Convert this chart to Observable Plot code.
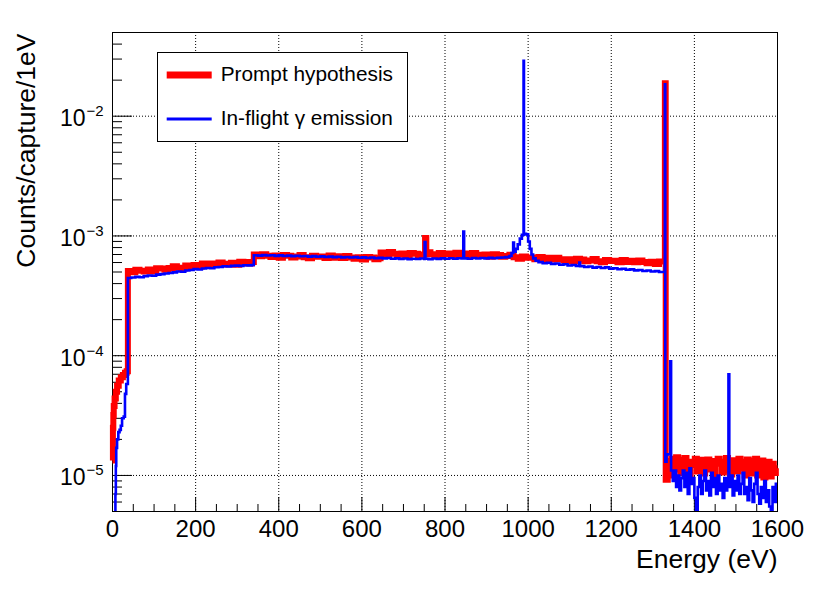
<!DOCTYPE html>
<html><head><meta charset="utf-8">
<script src="https://cdn.jsdelivr.net/npm/d3@7"></script>
<script src="https://cdn.jsdelivr.net/npm/@observablehq/plot@0.6"></script>
<style>
html,body{margin:0;padding:0;background:#fff;overflow:hidden}
#wrap{position:relative;width:830px;height:599px}
#legend{position:absolute;left:0;top:0;pointer-events:none}
</style></head>
<body><div id="wrap"></div>
<script>
// ---- data: [energy bin start (eV), counts/capture/1eV] ----
const redRise = [[0,1.33e-5],[1,2.5e-5],[2,3.2e-5],[3,3.8e-5],[5,4.4e-5],[8,5.0e-5],[11,5.6e-5],[15,6.2e-5],[20,6.6e-5],[25,6.9e-5],[30,7.2e-5],[34,7.4e-5]];
const redMain = [[37,5.10e-4],[45,4.98e-4],[55,5.22e-4],[65,5.11e-4],[75,5.05e-4],[85,5.24e-4],[95,5.06e-4],[105,5.37e-4],[115,5.35e-4],[125,5.23e-4],[135,5.39e-4],[145,5.59e-4],[155,5.42e-4],[165,5.35e-4],[175,5.67e-4],[185,5.60e-4],[195,5.71e-4],[205,5.57e-4],[215,5.88e-4],[225,5.68e-4],[235,5.89e-4],[245,5.74e-4],[255,6.00e-4],[265,5.86e-4],[275,5.77e-4],[285,5.98e-4],[295,5.76e-4],[305,6.09e-4],[315,6.06e-4],[325,5.90e-4],[335,6.05e-4],
[340,6.99e-4],[350,6.77e-4],[360,7.03e-4],[370,6.82e-4],[380,6.67e-4],[390,6.87e-4],[400,6.59e-4],[410,6.92e-4],[420,6.84e-4],[430,6.62e-4],[440,6.75e-4],[450,6.94e-4],[460,6.65e-4],[470,6.51e-4],[480,6.83e-4],[490,6.69e-4],[500,6.75e-4],[510,6.54e-4],[520,6.86e-4],[530,6.57e-4],[540,6.76e-4],[550,6.55e-4],[560,6.81e-4],[570,6.60e-4],[580,6.45e-4],[590,6.64e-4],[600,6.36e-4],[610,6.68e-4],[620,6.60e-4],[630,6.39e-4],[640,6.51e-4],
[645,7.29e-4],[655,7.07e-4],[665,7.33e-4],[675,7.11e-4],[685,6.95e-4],[695,7.15e-4],[705,6.85e-4],[715,7.19e-4],[725,7.10e-4],[735,6.88e-4],[745,7.00e-4],[752,9.6e-4],[755,7.31e-4],[765,7.02e-4],[775,6.87e-4],[785,7.21e-4],[795,7.06e-4],[805,7.12e-4],[815,6.90e-4],[825,7.24e-4],[835,6.95e-4],[845,7.15e-4],[855,6.93e-4],[865,7.19e-4],[875,6.96e-4],[885,6.80e-4],[895,6.99e-4],[905,6.69e-4],[915,7.02e-4],[925,6.93e-4],[935,6.69e-4],[945,6.79e-4],[955,6.95e-4],[965,6.63e-4],[975,6.45e-4],[985,6.74e-4],[995,6.58e-4],
[1005,6.62e-4],[1015,6.39e-4],[1025,6.68e-4],[1035,6.40e-4],[1045,6.57e-4],[1055,6.36e-4],[1065,6.59e-4],[1075,6.38e-4],[1085,6.23e-4],[1095,6.40e-4],[1105,6.14e-4],[1115,6.44e-4],[1125,6.35e-4],[1135,6.14e-4],[1145,6.25e-4],[1155,6.43e-4],[1165,6.16e-4],[1175,6.02e-4],[1185,6.31e-4],[1195,6.18e-4],[1205,6.22e-4],[1215,6.03e-4],[1225,6.31e-4],[1235,6.06e-4],[1245,6.22e-4],[1255,6.03e-4],[1265,6.25e-4],[1275,6.06e-4],[1285,5.92e-4],[1295,6.09e-4],[1305,5.84e-4],[1315,6.13e-4]];
const redPeak = [[1329,1.88e-2]];
const redTail = [[1331,9.2e-6],[1336,1.0e-5],[1341,1.32e-5],[1346,1.38e-5],[1351,1.12e-5],[1356,1.42e-5],[1361,1.25e-5],[1366,1.05e-5],[1371,1.35e-5],[1376,1.4e-5],[1381,1.15e-5],[1386,1.02e-5],[1391,1.3e-5],[1396,1.22e-5],[1401,1.38e-5],[1406,1.08e-5],[1411,1.18e-5],[1416,1.35e-5],[1421,1.04e-5],[1426,1.28e-5],[1431,1.36e-5],[1436,1.12e-5],[1441,1.32e-5],[1446,1.0e-5],[1451,1.25e-5],[1456,1.38e-5],[1461,1.3e-5],[1466,1.06e-5],[1471,1.2e-5],[1476,1.4e-5],[1481,1.1e-5],[1486,1.02e-5],[1491,1.34e-5],[1496,1.26e-5],[1501,1.08e-5],[1506,1.38e-5],[1511,1.15e-5],[1516,1.3e-5],[1521,1.0e-5],[1526,1.36e-5],[1531,1.24e-5],[1536,1.04e-5],[1541,1.32e-5],[1546,1.38e-5],[1551,1.0e-5],[1556,1.2e-5],[1561,1.33e-5],[1566,9.6e-6],[1571,1.1e-5],[1576,1.3e-5],[1581,9.8e-6],[1586,1.25e-5],[1591,1.05e-5],[1596,1.15e-5],[1600,1.15e-5]];

const blueRise = [[0,1e-6],[7,7e-6],[8,1.2e-5],[9,1.7e-5],[11,2.0e-5],[14,2.3e-5],[17,2.4e-5],[20,2.6e-5],[23,3.0e-5],[27,3.1e-5],[30,4.8e-5],[33,5.8e-5]];
const blueMain = [[37,4.45e-4],[45,4.50e-4],[55,4.55e-4],[65,4.52e-4],[75,4.62e-4],[85,4.68e-4],[95,4.65e-4],[105,4.75e-4],[115,4.80e-4],[125,4.86e-4],[135,4.90e-4],[145,4.96e-4],[155,5.05e-4],[165,5.02e-4],[175,5.15e-4],[185,5.20e-4],[195,5.28e-4],[205,5.25e-4],[215,5.35e-4],[225,5.40e-4],[235,5.38e-4],[245,5.48e-4],[255,5.50e-4],[265,5.58e-4],[275,5.55e-4],[285,5.62e-4],[295,5.65e-4],[305,5.62e-4],[315,5.70e-4],[325,5.68e-4],[335,5.72e-4],
[340,6.90e-4],[350,6.85e-4],[360,6.92e-4],[370,6.86e-4],[380,6.90e-4],[390,6.82e-4],[400,6.88e-4],[410,6.80e-4],[420,6.85e-4],[430,6.78e-4],[440,6.84e-4],[450,6.76e-4],[460,6.80e-4],[470,6.72e-4],[480,6.78e-4],[490,6.70e-4],[500,6.75e-4],[510,6.68e-4],[520,6.72e-4],[530,6.65e-4],[540,6.70e-4],[550,6.62e-4],[560,6.68e-4],[570,6.60e-4],[580,6.65e-4],[590,6.58e-4],[600,6.62e-4],[610,6.55e-4],[620,6.60e-4],[630,6.52e-4],[640,6.56e-4],[650,6.50e-4],[660,6.54e-4],[670,6.46e-4],[680,6.50e-4],[690,6.44e-4],[700,6.48e-4],[710,6.40e-4],[720,6.46e-4],[730,6.42e-4],[740,6.48e-4],[750,6.42e-4],[751,8.9e-4],[753,6.45e-4],[760,6.40e-4],[770,6.48e-4],[780,6.44e-4],[790,6.50e-4],[800,6.45e-4],[810,6.52e-4],[820,6.46e-4],[830,6.52e-4],[840,6.48e-4],[844,1.09e-3],[846,6.50e-4],[855,6.46e-4],[865,6.54e-4],[875,6.48e-4],[885,6.55e-4],[895,6.50e-4],[905,6.56e-4],[915,6.52e-4],[925,6.58e-4],[935,6.60e-4],[945,6.65e-4],[955,6.80e-4],[960,7.20e-4],[964,8.8e-4],[966,7.40e-4],[970,7.80e-4],[975,8.50e-4],[980,9.50e-4],[985,1.02e-3],[989,2.90e-2],[990,1.04e-3],[995,1.03e-3],[1000,9.0e-4],[1004,7.8e-4],[1008,7.0e-4],[1012,6.5e-4],[1018,6.2e-4],
[1025,6.05e-4],[1035,5.92e-4],[1045,5.98e-4],[1055,5.84e-4],[1065,5.88e-4],[1075,5.74e-4],[1085,5.80e-4],[1095,5.66e-4],[1105,5.72e-4],[1115,5.62e-4],[1123,6.0e-4],[1125,5.60e-4],[1135,5.50e-4],[1145,5.56e-4],[1155,5.44e-4],[1165,5.50e-4],[1175,5.40e-4],[1185,5.46e-4],[1195,5.34e-4],[1205,5.38e-4],[1215,5.27e-4],[1225,5.32e-4],[1235,5.22e-4],[1245,5.26e-4],[1255,5.16e-4],[1265,5.20e-4],[1275,5.10e-4],[1285,5.14e-4],[1295,5.05e-4],[1305,5.08e-4],[1315,5.00e-4]];
const bluePeak = [[1329,1.85e-2]];
const blueTail = [[1330,1.3e-5],[1333,1.5e-5],[1342,9.0e-5],[1344,1.1e-5],[1348,9.0e-6],[1352,1.1e-5],[1356,8.0e-6],[1360,1.0e-5],[1364,7.5e-6],[1368,9.5e-6],[1372,1.1e-5],[1376,8.0e-6],[1380,1.05e-5],[1384,7.0e-6],[1388,1.15e-5],[1392,8.5e-6],[1396,9.5e-6],[1400,6.5e-6],[1404,5.0e-6],[1408,8.0e-6],[1412,1.0e-5],[1416,7.0e-6],[1420,9.0e-6],[1424,1.1e-5],[1428,7.5e-6],[1432,9.0e-6],[1436,6.8e-6],[1440,1.05e-5],[1444,8.0e-6],[1448,9.5e-6],[1452,7.0e-6],[1456,1.0e-5],[1460,7.5e-6],[1464,8.5e-6],[1468,6.5e-6],[1472,9.5e-6],[1476,7.5e-6],[1479,9.0e-6],[1482,7.0e-5],[1484,8.0e-6],[1488,1.0e-5],[1492,6.8e-6],[1496,9.0e-6],[1500,7.5e-6],[1504,1.0e-5],[1508,7.0e-6],[1512,8.5e-6],[1516,1.05e-5],[1520,7.0e-6],[1524,8.0e-6],[1528,6.2e-6],[1532,9.5e-6],[1536,7.5e-6],[1540,6.0e-6],[1544,8.5e-6],[1548,1.05e-5],[1552,7.0e-6],[1556,5.8e-6],[1560,8.0e-6],[1564,6.5e-6],[1568,9.0e-6],[1572,6.0e-6],[1576,7.5e-6],[1580,5.5e-6],[1584,3.0e-6],[1588,8.0e-6],[1592,6.0e-6],[1596,8.5e-6],[1600,8.5e-6]];

// ---- ticks & labels ----
const xMajor = [0,200,400,600,800,1000,1200,1400,1600];
const xGrid = [200,400,600,800,1000,1200,1400];
const xMinor = [50,100,150,250,300,350,450,500,550,650,700,750,850,900,950,1050,1100,1150,1250,1300,1350,1450,1500,1550];
const yDecades = [1e-5,1e-4,1e-3,1e-2];
const yExp = ["\u22125","\u22124","\u22123","\u22122"];
const yMinor = [6e-6,7e-6,8e-6,9e-6,2e-5,3e-5,4e-5,5e-5,6e-5,7e-5,8e-5,9e-5,2e-4,3e-4,4e-4,5e-4,6e-4,7e-4,8e-4,9e-4,2e-3,3e-3,4e-3,5e-3,6e-3,7e-3,8e-3,9e-3,2e-2,3e-2,4e-2];
const seriesNames = ["Prompt hypothesis","In-flight \u03b3 emission"];
const seriesColors = ["#ff0000","#0000ff"];
const xTitle = "Energy (eV)";
const yTitle = "Counts/capture/1eV";

const toRows = a => a.map(([e, v]) => ({e, v}));
const red = toRows([...redRise, ...redMain, ...redPeak, ...redTail]);
const blue = toRows([...blueRise, ...blueMain, ...bluePeak, ...blueTail]);

const FONT = "Liberation Sans, Arial, Helvetica, sans-serif";
const W = 830, H = 599, ML = 112, MR = 53, MT = 32, MB = 88;
const FW = W - ML - MR, FH = H - MT - MB;

const chart = Plot.plot({
  width: W, height: H,
  marginLeft: ML, marginRight: MR, marginTop: MT, marginBottom: MB,
  style: {fontFamily: FONT, background: "#fff", color: "#000"},
  x: {domain: [0, 1600], axis: null},
  y: {type: "log", domain: [5e-6, 0.05], axis: null},
  marks: [
    Plot.ruleX(xGrid, {x: d => d, stroke: "#000", strokeDasharray: "1,2", strokeWidth: 1}),
    Plot.ruleY(yDecades, {y: d => d, stroke: "#000", strokeDasharray: "1,2", strokeWidth: 1}),
    Plot.ruleX(xMajor, {x: d => d, insetTop: FH - 14, stroke: "#000"}),
    Plot.ruleX(xMinor, {x: d => d, insetTop: FH - 7, stroke: "#000"}),
    Plot.ruleY(yDecades, {y: d => d, insetRight: FW - 20, stroke: "#000"}),
    Plot.ruleY(yMinor, {y: d => d, insetRight: FW - 10, stroke: "#000"}),
    Plot.frame({stroke: "#000", strokeWidth: 1}),
    Plot.line(red, {x: "e", y: "v", curve: "step-after", stroke: seriesColors[0], strokeWidth: 6, strokeLinejoin: "miter", strokeMiterlimit: 10, strokeLinecap: "butt"}),
    Plot.line(blue, {x: "e", y: "v", curve: "step-after", stroke: seriesColors[1], strokeWidth: 2.6, strokeLinejoin: "miter", strokeMiterlimit: 10, strokeLinecap: "butt", clip: true}),
    Plot.text(xMajor, {x: d => d, frameAnchor: "bottom", text: d => String(d), lineAnchor: "bottom", textAnchor: "middle", dy: 25, fontSize: 24, fontFamily: FONT, fill: "#000"}),
    Plot.text(yDecades, {y: d => d, frameAnchor: "left", text: () => "10", lineAnchor: "bottom", textAnchor: "end", dx: -27, dy: 10, fontSize: 23, fontFamily: FONT, fill: "#000"}),
    Plot.text(yDecades, {y: d => d, frameAnchor: "left", text: (d, i) => yExp[i], lineAnchor: "bottom", textAnchor: "end", dx: -9, dy: 0, fontSize: 15, fontFamily: FONT, fill: "#000"}),
    Plot.text([xTitle], {frameAnchor: "bottom-right", text: d => d, lineAnchor: "bottom", textAnchor: "end", dy: 56, fontSize: 26.5, fontFamily: FONT, fill: "#000"}),
    Plot.text([yTitle], {frameAnchor: "top-left", text: d => d, rotate: -90, lineAnchor: "bottom", textAnchor: "end", dx: -77.5, dy: 1, fontSize: 26.5, fontFamily: FONT, fill: "#000"})
  ]
});
const wrap = document.getElementById("wrap");
wrap.appendChild(chart);

// ---- legend overlay ----
const leg = d3.select(wrap).append("svg").attr("id", "legend").attr("width", W).attr("height", H);
leg.append("rect").attr("x", 157.5).attr("y", 52.5).attr("width", 250).attr("height", 89)
  .attr("fill", "#fff").attr("stroke", "#000").attr("stroke-width", 1);
const rows = [{y: 75, w: 7}, {y: 119, w: 3}];
seriesNames.forEach((name, i) => {
  leg.append("line").attr("x1", 166.7).attr("x2", 211.7).attr("y1", rows[i].y).attr("y2", rows[i].y)
    .attr("stroke", seriesColors[i]).attr("stroke-width", rows[i].w);
  leg.append("text").attr("x", 220.7).attr("y", rows[i].y + 5.5).attr("font-family", FONT)
    .attr("font-size", 20.8).attr("fill", "#000").text(name);
});
</script></body></html>
